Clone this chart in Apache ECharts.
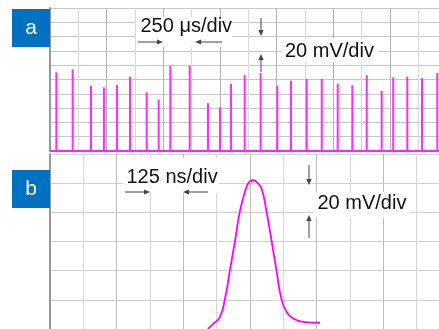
<!DOCTYPE html>
<html><head><meta charset="utf-8">
<script src="https://cdn.jsdelivr.net/npm/echarts@6/dist/echarts.min.js"></script>
<style>html,body{margin:0;padding:0;background:#fff}#c{width:439px;height:329px}</style>
</head><body><div id="c"></div>
<script>
// Panel a: pulse train (time in µs, amplitude in mV)
const spikeTimes = [56,200,362,476,591,706,853,959,1062,1233,1394,1500,1597,1718,1859,2006,2127,2265,2398,2539,2668,2795,2927,3029,3153,3283,3418];
const spikeHeights = [110,114,91,89,92,104,82,72,119,119,67,61,94,106,109,91,98,101,101,94,92,106,84,103,104,102,109];
// Panel b: single pulse (time in ns, amplitude in mV)
const pulseTimes = [592,611,637,656,675,694,712,731,746,762,776,794,812,831,849,868,888,911,949,1013];
const pulseValues = [0,3.3,8.2,20.5,40.5,60.5,80.5,94,100.7,102,100.7,96,80.5,60.5,40.5,20.5,11.5,7.3,4.9,4.3];
const panelLabels = ['a','b'];
const scaleLabels = ['250 μs/div','20 mV/div','125 ns/div','20 mV/div'];

const spikeData = spikeTimes.map((t,i)=>[t, spikeHeights[i]]);
const pulseData = pulseTimes.map((t,i)=>[t, pulseValues[i]]);

const FONT = '20px "Liberation Sans", Arial, sans-serif';
const AC = '#444';
function arrow(x1,y1,x2,y2){
  const dx=x2-x1, dy=y2-y1, L=Math.hypot(dx,dy), ux=dx/L, uy=dy/L;
  const hl=6, hw=2.6;
  const bx=x2-ux*hl, by=y2-uy*hl;
  return [
    {type:'line', z:101, shape:{x1:x1,y1:y1,x2:bx,y2:by}, style:{stroke:AC, lineWidth:1}},
    {type:'polygon', z:101, shape:{points:[[x2,y2],[bx-uy*hw,by+ux*hw],[bx+uy*hw,by-ux*hw]]}, style:{fill:AC}}
  ];
}
function whiteBox(x,y,w,h){return {type:'rect', z:100, shape:{x:x,y:y,width:w,height:h}, style:{fill:'#fff'}};}
function txt(s,x,y){return {type:'text', z:102, x:x, y:y, style:{text:s, font:FONT, fill:'#111', verticalAlign:'middle', align:'left'}};}
function badge(s,y){return [
  {type:'rect', z:100, shape:{x:12,y:y,width:38,height:38}, style:{fill:'#0070c0'}},
  {type:'text', z:102, x:31, y:y+19, style:{text:s, font:'21px "Liberation Sans", Arial, sans-serif', fill:'#fff', align:'center', verticalAlign:'middle'}}
];}

const graphic = [].concat(
  whiteBox(136,17,96,30),
  whiteBox(282,38,96,24),
  whiteBox(123,158,96,35),
  whiteBox(314,192,96,26),
  badge(panelLabels[0],9),
  badge(panelLabels[1],170),
  txt(scaleLabels[0],140.5,26.5),
  txt(scaleLabels[1],285,51),
  txt(scaleLabels[2],126.5,177),
  txt(scaleLabels[3],317.5,203),
  arrow(138,42,163,42), arrow(222,42,195,42),
  arrow(261,18,261,36), arrow(261,72,261,54),
  arrow(125,192,150,192), arrow(208,192,183,192),
  arrow(309,165,309,185), arrow(309,238,309,215)
);

const chart = echarts.init(document.getElementById('c'), null, {renderer:'canvas'});
chart.setOption({
  animation:false,
  backgroundColor:'#fff',
  grid:[
    {left:50, top:8, right:0, height:143},
    {left:50, top:154, right:0, height:180}
  ],
  xAxis:[
    {gridIndex:0, type:'value', min:0, max:3433, interval:250,
     axisLine:{show:false}, axisTick:{show:false}, axisLabel:{show:false},
     splitLine:{show:true, lineStyle:{color:['#b2b2b2','#dadada'], width:1}}},
    {gridIndex:1, type:'value', min:0, max:1459, interval:125,
     axisLine:{show:false}, axisTick:{show:false}, axisLabel:{show:false},
     splitLine:{show:true, lineStyle:{color:['#bcbcbc','#d6d6d6'], width:1}}}
  ],
  yAxis:[
    {gridIndex:0, type:'value', min:0, max:200, interval:20,
     axisLine:{show:true, lineStyle:{color:'#999', width:2}}, axisTick:{show:false}, axisLabel:{show:false},
     splitLine:{show:true, lineStyle:{color:'#c6c6c6', width:1}}},
    {gridIndex:1, type:'value', min:0, max:120, interval:20,
     axisLine:{show:true, lineStyle:{color:'#999', width:2}}, axisTick:{show:false}, axisLabel:{show:false},
     splitLine:{show:true, lineStyle:{color:'#d0d0d0', width:1}}}
  ],
  series:[
    {type:'bar', xAxisIndex:0, yAxisIndex:0, data:spikeData, barWidth:2,
     itemStyle:{color:'#ff2cff'}, z:5,
     markLine:{silent:true, symbol:'none', label:{show:false},
       lineStyle:{color:'#ff22ff', width:2, type:'solid'}, data:[{yAxis:0}]}},
    {type:'line', xAxisIndex:1, yAxisIndex:1, data:pulseData, smooth:0.5,
     showSymbol:false, lineStyle:{color:'#ff00ff', width:1.8}, z:5}
  ],
  graphic: graphic
});
</script></body></html>
